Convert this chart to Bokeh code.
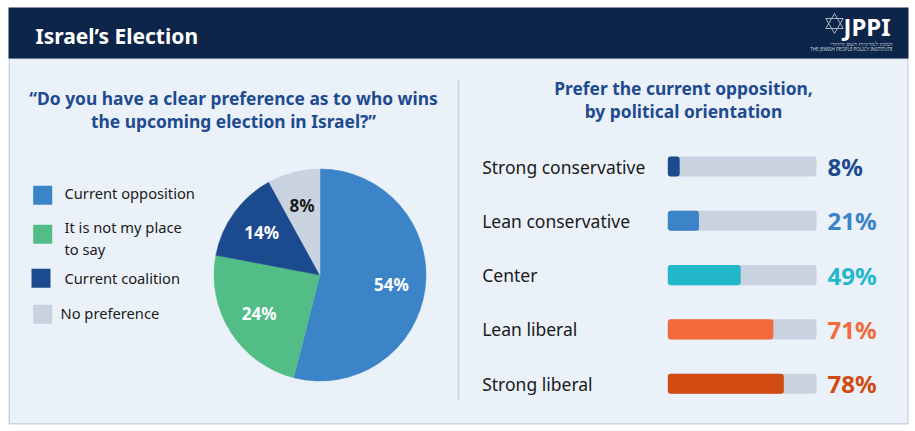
from math import pi

import numpy as np
from bokeh.core.properties import value
from bokeh.embed import file_html
from bokeh.models import ColumnDataSource, Range1d
from bokeh.plotting import figure
from bokeh.resources import INLINE

# Данные
pie_labels = ["Current opposition", "It is not my place\nto say", "Current coalition", "No preference"]
pie_values = [54, 24, 14, 8]
pie_colors = ["#3a84c7", "#52bd87", "#1b4a8f", "#c8d3df"]
pie_text_colors = ["white", "white", "white", "#1a1a1a"]

orientations = ["Strong conservative", "Lean conservative", "Center", "Lean liberal", "Strong liberal"]
opposition_share = [8, 21, 49, 71, 78]
bar_colors = ["#1c4a8c", "#3a84c7", "#22b8c9", "#f36b3a", "#d14a10"]

title = "Israel\u2019s Election"
left_title = ["\u201cDo you have a clear preference as to who wins", "the upcoming election in Israel?\u201d"]
right_title = ["Prefer the current opposition,", "by political orientation"]

# Раскладка: x — пиксели страницы, Y() переводит y страницы в координаты фигуры
W, H = 912, 428
FONT = "Noto Sans"
TITLE_BLUE = "#1e4b8f"
TEXT_DARK = "#1a1a1a"


def Y(yi):
    return H - yi


p = figure(width=W, height=H, x_range=Range1d(0, W), y_range=Range1d(0, H),
           x_axis_location=None, y_axis_location=None, min_border=0,
           tools="", toolbar_location=None, output_backend="svg")
p.grid.visible = False
p.outline_line_color = None
p.background_fill_color = "white"
p.border_fill_color = "white"

# Фон карточки и шапка
p.quad(left=8.75, right=907.25, bottom=Y(423.25), top=Y(58),
       fill_color="#eaf1f9", line_color="#c8d4e2", line_width=1.5)
p.quad(left=8, right=908, bottom=Y(58), top=Y(7), fill_color="#0c2548", line_color=None)
p.text(x=[35], y=[Y(35)], text=[title], text_font=value(FONT), text_font_size="21px",
       text_font_style="bold", text_color="white", text_baseline="middle")

# Логотип
sx, sy, sr = 834, Y(23), 10
star_xs = [[sx + sr * np.cos(np.radians(a + k)) for a in (90, 210, 330)] for k in (0, 180)]
star_ys = [[sy + sr * np.sin(np.radians(a + k)) for a in (90, 210, 330)] for k in (0, 180)]
p.patches(xs=star_xs, ys=star_ys, fill_color=None, line_color="#aab4c3", line_width=1)
p.text(x=[843], y=[Y(26)], text=["JPPI"], text_font=value(FONT), text_font_size="24px",
       text_font_style="bold", text_color="white", text_baseline="middle")
p.text(x=[892], y=[Y(43)], text=["המכון למדיניות העם היהודי"], text_font=value(FONT),
       text_font_size="6px", text_color="#c8d0dc", text_baseline="middle", text_align="right")
p.text(x=[892], y=[Y(48.5)], text=["THE JEWISH PEOPLE POLICY INSTITUTE"], text_font=value(FONT),
       text_font_size="4.5px", text_color="#c8d0dc", text_baseline="middle", text_align="right")

# Разделитель
p.segment(x0=458, y0=Y(80), x1=458, y1=Y(400), line_color="#c5d0dc", line_width=1.5)

# Заголовки панелей
for lines, cx_t, y_top in ((left_title, 233, 97), (right_title, 683, 87)):
    p.text(x=[cx_t] * len(lines), y=[Y(y_top + 23 * i) for i in range(len(lines))], text=lines,
           text_font=value(FONT), text_font_size="17.4px", text_font_style="bold",
           text_color=TITLE_BLUE, text_baseline="middle", text_align="center")

# Круговая диаграмма
cx, cy, R = 319.5, Y(274.5), 106
frac = np.array(pie_values) / sum(pie_values)
cum = np.concatenate([[0], np.cumsum(frac)])
start = pi / 2 - cum[:-1] * 2 * pi
end = pi / 2 - cum[1:] * 2 * pi
mid = (start + end) / 2
pie_src = ColumnDataSource(dict(
    start=start, end=end, color=pie_colors,
    lx=cx + 0.68 * R * np.cos(mid), ly=cy + 0.68 * R * np.sin(mid),
    label=[f"{v}%" for v in pie_values], tcolor=pie_text_colors,
))
p.wedge(x=cx, y=cy, radius=R, start_angle="start", end_angle="end", direction="clock",
        fill_color="color", line_color="color", line_width=0.5, source=pie_src)
p.text(x="lx", y="ly", text="label", text_color="tcolor", text_font=value(FONT),
       text_font_size="17px", text_font_style="bold", text_align="center",
       text_baseline="middle", source=pie_src)

# Легенда
leg_sq_x = [42.2, 42.2, 40.5, 42.2]
leg_sq_y = [Y(v) for v in (194.7, 233.8, 277.8, 313.8)]
leg_tx_x = [64, 64, 64, 60]
leg_tx_y = [Y(v) for v in (192.3, 237.5, 277.7, 312.7)]
p.scatter(x=leg_sq_x, y=leg_sq_y, marker="square", size=19,
          fill_color=pie_colors, line_color=None)
p.text(x=leg_tx_x, y=leg_tx_y, text=pie_labels, text_font=value(FONT),
       text_font_size="14.7px", text_color=TEXT_DARK, text_baseline="middle",
       text_line_height=1.08)

# Полосы: шкала 0..100% и номера строк через дополнительные диапазоны
BAR_X0, BAR_PX = 667.3, 148.7   # начало полосы и ширина 100% в пикселях
ROW0, ROW_STEP = Y(166), 54.3   # центр первой строки и шаг в пикселях
p.extra_x_ranges = {"pct": Range1d(-BAR_X0 / BAR_PX * 100, (W - BAR_X0) / BAR_PX * 100)}
p.extra_y_ranges = {"row": Range1d(ROW0 / ROW_STEP, (ROW0 - H) / ROW_STEP)}

bar_src = ColumnDataSource(dict(
    row=list(range(len(orientations))), v=opposition_share, color=bar_colors,
    name=orientations, label=[f"{v}%" for v in opposition_share],
))
p.hbar(y="row", left=0, right=100, height=0.37, fill_color="#c8d3df", line_color=None,
       border_radius=3, x_range_name="pct", y_range_name="row", source=bar_src)
p.hbar(y="row", left=0, right="v", height=0.37, fill_color="color", line_color=None,
       border_radius=3, x_range_name="pct", y_range_name="row", source=bar_src)
p.text(x=(481.7 - BAR_X0) / BAR_PX * 100, y="row", text="name", text_font=value(FONT),
       text_font_size="17.5px", text_color=TEXT_DARK, text_baseline="middle",
       x_range_name="pct", y_range_name="row", source=bar_src)
p.text(x=(827 - BAR_X0) / BAR_PX * 100, y="row", text="label", text_color="color",
       text_font=value(FONT), text_font_size="24px", text_font_style="bold",
       text_baseline="middle", x_range_name="pct", y_range_name="row", source=bar_src)

open("out.html", "w").write(file_html(p, INLINE))
